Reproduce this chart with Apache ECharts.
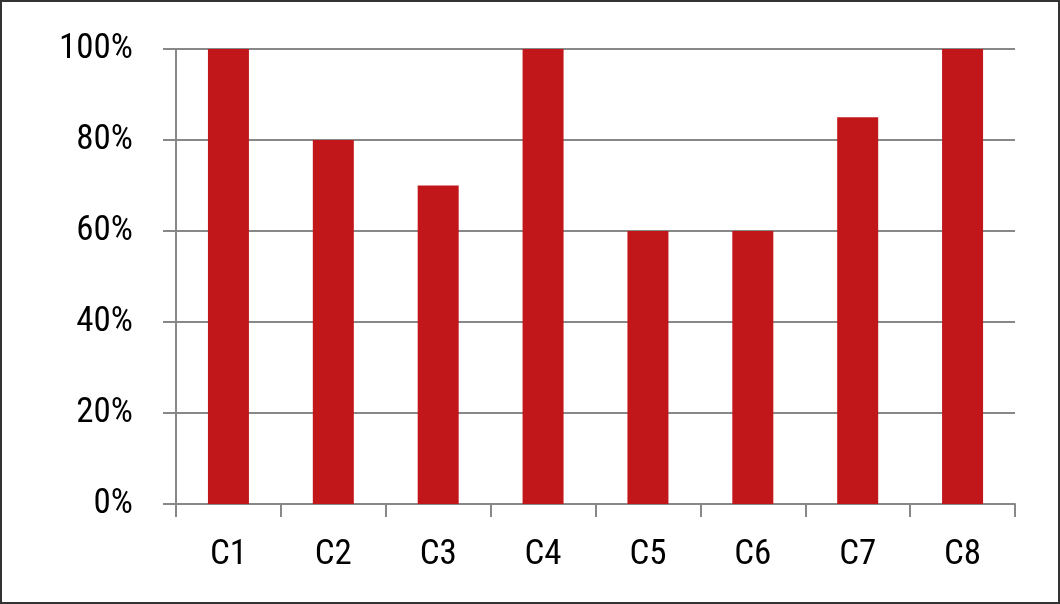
<!DOCTYPE html>
<html><head><meta charset="utf-8">
<script src="https://cdn.jsdelivr.net/npm/echarts@6/dist/echarts.min.js"></script>
<style>html,body{margin:0;padding:0;background:#fff}#c{width:1060px;height:604px;box-sizing:border-box;border:2px solid #333}</style>
</head><body><div id="c"></div>
<script>
const categories = ['C1','C2','C3','C4','C5','C6','C7','C8'];
const values = [100, 80, 70, 100, 60, 60, 85, 100];
const yTicks = [0, 20, 40, 60, 80, 100];
const FONT = '"Roboto Condensed", "Liberation Sans Narrow", "Arial Narrow", Roboto, sans-serif';
const chart = echarts.init(document.getElementById('c'), null, {renderer:'canvas'});
chart.setOption({
  animation: false,
  grid: {left: 174, right: 43, top: 47, bottom: 98, containLabel: false},
  xAxis: {
    type: 'category', data: categories,
    axisLine: {lineStyle: {color: '#888', width: 2}},
    axisTick: {show: true, length: 13, lineStyle: {color: '#888', width: 2}},
    axisLabel: {color: '#000', fontFamily: FONT, fontSize: 35, margin: 34}
  },
  yAxis: {
    type: 'value', min: yTicks[0], max: yTicks[yTicks.length-1], interval: 20,
    axisLine: {show: true, lineStyle: {color: '#888', width: 2}},
    axisTick: {show: true, length: 13, lineStyle: {color: '#888', width: 2}},
    splitLine: {show: true, lineStyle: {color: '#888', width: 2}},
    axisLabel: {color: '#000', fontFamily: FONT, fontSize: 35, margin: 43, formatter: v => v + '%'}
  },
  series: [{
    type: 'bar', data: values, barWidth: 41,
    itemStyle: {color: '#C1171A'}
  }]
});
</script></body></html>
